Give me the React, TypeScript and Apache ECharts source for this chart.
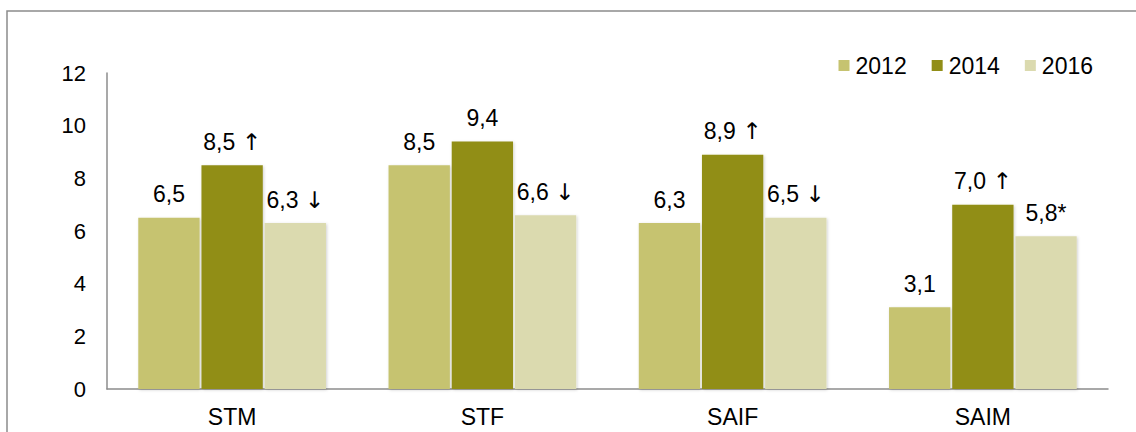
import React, { useEffect, useRef } from "react";
import * as echarts from "echarts";

// Indicator groups and yearly values
const categories = ["STM", "STF", "SAIF", "SAIM"];
const years = ["2012", "2014", "2016"];
const values2012 = [6.5, 8.5, 6.3, 3.1];
const values2014 = [8.5, 9.4, 8.9, 7.0];
const values2016 = [6.3, 6.6, 6.5, 5.8];
// Trend markers appended to the value labels
const marks2012 = ["", "", "", ""];
const marks2014 = ["↑", "", "↑", "↑"];
const marks2016 = ["↓", "↓", "↓", "*"];
const yTicks = [0, 2, 4, 6, 8, 10, 12];

const colors = ["#C6C370", "#918E17", "#DBDAAF"];
const FONT = "'Liberation Sans', Arial, sans-serif";
const FS = 23;

const fmt = (v: number) => v.toFixed(1).replace(".", ",");

export default function App() {
  const ref = useRef<HTMLDivElement>(null);

  useEffect(() => {
    if (!ref.current) return;
    const chart = echarts.init(ref.current, null, { renderer: "svg" });
    const seriesData = [values2012, values2014, values2016];
    const seriesMarks = [marks2012, marks2014, marks2016];

    chart.setOption({
      animation: false,
      backgroundColor: "#ffffff",
      textStyle: { fontFamily: FONT },
      graphic: [
        {
          type: "rect",
          shape: { x: 7, y: 11, width: 1150, height: 440 },
          style: { fill: "none", stroke: "#8c8c8c", lineWidth: 1.5 },
          silent: true,
        },
      ],
      legend: {
        right: 38,
        top: 49,
        itemWidth: 11,
        itemHeight: 11,
        itemGap: 25,
        icon: "rect",
        textStyle: { fontSize: FS, color: "#000", fontFamily: FONT, padding: [0, 0, 0, 1] },
        data: years,
      },
      grid: { left: 107, right: 28, top: 73, bottom: 43 },
      xAxis: {
        type: "category",
        data: categories,
        axisLine: { lineStyle: { color: "#8c8c8c", width: 1.5 } },
        axisTick: { show: false },
        axisLabel: { fontSize: FS, color: "#000", margin: 16, fontFamily: FONT },
      },
      yAxis: {
        type: "value",
        min: yTicks[0],
        max: yTicks[yTicks.length - 1],
        interval: 2,
        axisLine: { show: true, lineStyle: { color: "#8c8c8c", width: 1.5 } },
        axisTick: { show: false },
        splitLine: { show: false },
        axisLabel: { fontSize: 22, color: "#000", margin: 21, fontFamily: FONT },
      },
      series: years.map((y, i) => ({
        name: y,
        type: "bar",
        data: seriesData[i],
        barGap: "3%",
        barCategoryGap: "25%",
        itemStyle: {
          color: colors[i],
          shadowColor: "rgba(0,0,0,0.18)",
          shadowBlur: 3,
          shadowOffsetX: 1,
          shadowOffsetY: 1,
        },
        label: {
          show: true,
          position: "top",
          distance: 12,
          fontSize: FS,
          color: "#000",
          fontFamily: FONT,
          formatter: (p: any) => {
            const m = seriesMarks[i][p.dataIndex];
            const v = fmt(p.value);
            if (m === "↑" || m === "↓") return v + " {arr|" + m + "}";
            return v + m;
          },
          rich: {
            arr: {
              fontFamily: "'DejaVu Sans', sans-serif",
              fontSize: FS,
              color: "#000",
            },
          },
        },
      })),
    });

    return () => chart.dispose();
  }, []);

  return (
    <div
      ref={ref}
      style={{ position: "fixed", left: 0, top: 0, width: 1136, height: 432 }}
    />
  );
}
